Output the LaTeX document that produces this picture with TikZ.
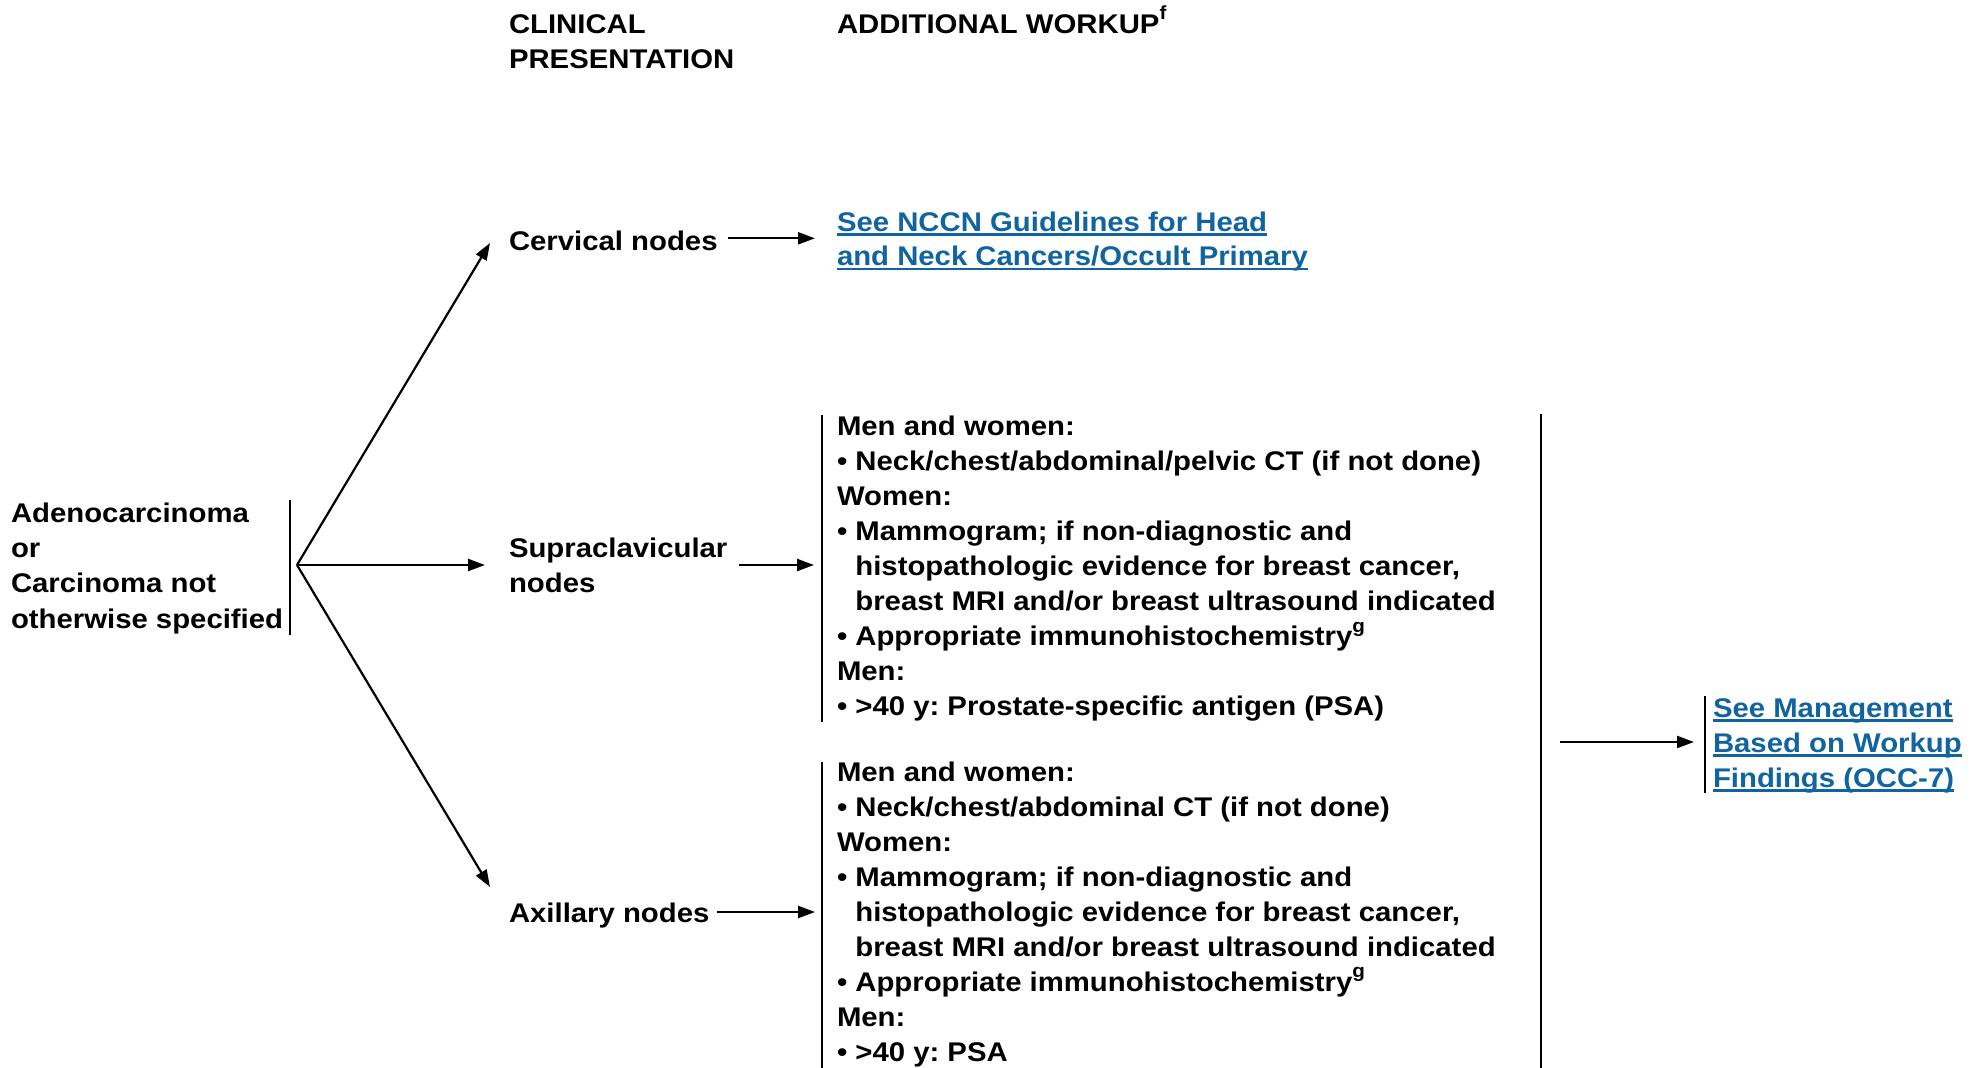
\documentclass[tikz,border=0pt]{standalone}
\usepackage{fontspec}
\setmainfont{Liberation Sans}[FakeStretch=1.086]
\usetikzlibrary{arrows.meta}
\definecolor{linkblue}{RGB}{16,100,160}
\frenchspacing
% raised footnote letter
\newcommand\supr[1]{\raisebox{0.5em}{\fontsize{19}{19}\selectfont #1}}
% underlined link text
\newcommand\lnk[1]{\setbox0\hbox{#1}\rlap{\rule[-4.5pt]{\wd0}{2.2pt}}\box0}
% indent for wrapped bullet lines
\newcommand\hang{\phantom{•~}}
\newcommand\lines[1]{\begin{tabular}[t]{@{}l@{}}#1\end{tabular}}

\tikzset{
  txt/.style={anchor=base west, inner sep=0pt, outer sep=0pt,
              font=\fontsize{27}{35}\selectfont\bfseries},
  linktxt/.style={txt, text=linkblue, font=\fontsize{27}{34.6}\selectfont\bfseries},
  arr/.style={line width=2.2pt, -{Triangle[length=17pt,width=12pt]}},
  bar/.style={line width=2.8pt}
}

\begin{document}
\begin{tikzpicture}[x=1pt,y=-1pt]
\useasboundingbox[fill=white] (0,0) rectangle (1982,1068);

% column headings
\node[txt] (hclin) at (509,33.5) {\lines{CLINICAL\\PRESENTATION}};
\node[txt] (hwork) at (837,33.5) {ADDITIONAL WORKUP\supr{f}};

% starting presentation
\node[txt, font=\fontsize{27}{35.4}\selectfont\bfseries] (adeno) at (11,522)
  {\lines{Adenocarcinoma\\or\\Carcinoma not\\otherwise specified}};
\coordinate (adtop) at (290,500);
\coordinate (adbot) at (290,635);
\draw[bar] (adtop) -- (adbot);

% clinical presentations
\node[txt] (cerv) at (509,250) {Cervical nodes};
\node[txt] (supra) at (509,557) {\lines{Supraclavicular\\nodes}};
\node[txt] (axil) at (509,922.5) {Axillary nodes};

% branching from the fork
\coordinate (fork) at (297,565);
\coordinate (cervIn) at (490,243);
\coordinate (supraIn) at (485,565);
\coordinate (axilIn) at (490,887);
\draw[arr] (fork) -- (cervIn);
\draw[arr] (fork) -- (supraIn);
\draw[arr] (fork) -- (axilIn);

% head and neck referral
\node[linktxt] (hn) at (837,231)
  {\lines{\lnk{See NCCN Guidelines for Head}\\\lnk{and Neck Cancers/Occult Primary}}};
\coordinate (cervOut) at (728,238.3);
\coordinate (hnIn) at (815,238.3);
\draw[arr] (cervOut) -- (hnIn);

% workup for supraclavicular nodes
\node[txt] (wsupra) at (837,435.5) {\lines{%
  Men and women:\\
  •~Neck/chest/abdominal/pelvic CT (if not done)\\
  Women:\\
  •~Mammogram; if non-diagnostic and\\
  \hang histopathologic evidence for breast cancer,\\
  \hang breast MRI and/or breast ultrasound indicated\\
  •~Appropriate immunohistochemistry\supr{g}\\
  Men:\\
  •~>40 y: Prostate-specific antigen (PSA)}};
\coordinate (ws1) at (822,415);
\coordinate (ws2) at (822,722);
\draw[bar] (ws1) -- (ws2);
\coordinate (supraOut) at (739,565);
\coordinate (wsupraIn) at (814,565);
\draw[arr] (supraOut) -- (wsupraIn);

% workup for axillary nodes
\node[txt] (waxil) at (837,781) {\lines{%
  Men and women:\\
  •~Neck/chest/abdominal CT (if not done)\\
  Women:\\
  •~Mammogram; if non-diagnostic and\\
  \hang histopathologic evidence for breast cancer,\\
  \hang breast MRI and/or breast ultrasound indicated\\
  •~Appropriate immunohistochemistry\supr{g}\\
  Men:\\
  •~>40 y: PSA}};
\coordinate (wa1) at (822,762);
\coordinate (wa2) at (822,1070);
\draw[bar] (wa1) -- (wa2);
\coordinate (axilOut) at (717,912);
\coordinate (waxilIn) at (815,912);
\draw[arr] (axilOut) -- (waxilIn);

% collecting bracket and management referral
\coordinate (rb1) at (1541,414);
\coordinate (rb2) at (1541,1070);
\draw[bar] (rb1) -- (rb2);
\coordinate (mgOut) at (1560,742);
\coordinate (mgIn) at (1694,742);
\draw[arr] (mgOut) -- (mgIn);
\coordinate (mb1) at (1705,696);
\coordinate (mb2) at (1705,793);
\draw[bar] (mb1) -- (mb2);
\node[txt, text=linkblue, font=\fontsize{27}{35}\selectfont\bfseries] (mgmt) at (1713,717)
  {\lines{\lnk{See Management}\\\lnk{Based on Workup}\\\lnk{Findings (OCC-7)}}};

\end{tikzpicture}
\end{document}
